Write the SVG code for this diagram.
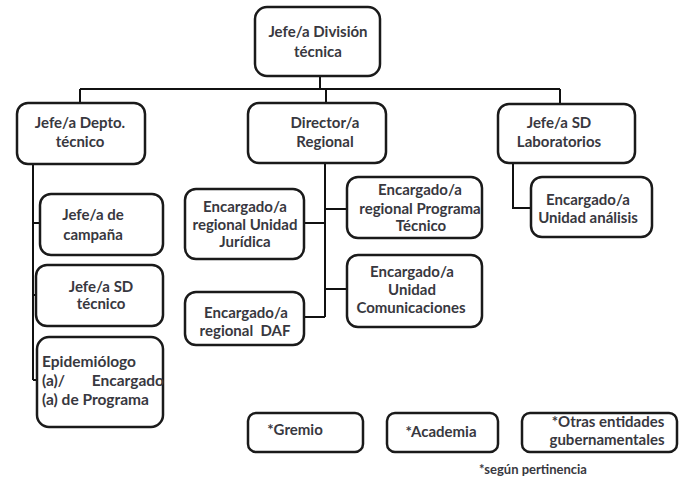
<svg xmlns="http://www.w3.org/2000/svg" width="681" height="477" viewBox="0 0 681 477">
  <style>
    .box { fill: #ffffff; stroke: #1a1a1a; stroke-width: 2.5; }
    .link { fill: none; stroke: #111111; stroke-width: 2; }
    text { font-family: Lato, "Open Sans", "Liberation Sans", sans-serif; font-weight: bold; font-size: 15px; fill: #383840; }
    .c { text-anchor: middle; }
    .big { font-size: 15.5px; }
    .note { font-size: 13px; }
  </style>
  <rect width="681" height="477" fill="#ffffff"/>

  <!-- connectors -->
  <g id="connectors">
    <path class="link" d="M320 76 V89 M80 89 H560 M80 89 V103 M326 89 V103 M560 89 V104"/>
    <path class="link" d="M33 164 V380 M33 223 H40 M33 295 H36 M33 380 H37"/>
    <path class="link" d="M325 163 V317 M325 209 H347 M304 223 H325 M325 289 H347 M304 317 H325"/>
    <path class="link" d="M513 163 V208 H531"/>
  </g>

  <g id="jefe-division">
    <rect class="box" x="255" y="7" width="125" height="69" rx="12"/>
    <text class="c" x="318" y="37">Jefe/a División</text>
    <text class="c" x="318" y="57">técnica</text>
  </g>

  <g id="jefe-depto">
    <rect class="box" x="17" y="103" width="128" height="61" rx="11"/>
    <text class="c" x="80" y="128">Jefe/a Depto.</text>
    <text class="c" x="80" y="147">técnico</text>
  </g>

  <g id="director-regional">
    <rect class="box" x="248" y="103" width="138" height="60" rx="11"/>
    <text class="c" x="325" y="128">Director/a</text>
    <text class="c" x="325" y="147">Regional</text>
  </g>

  <g id="jefe-sd-lab">
    <rect class="box" x="498" y="104" width="137" height="59" rx="11"/>
    <text class="c" x="559" y="128">Jefe/a SD</text>
    <text class="c" x="559" y="147">Laboratorios</text>
  </g>

  <g id="unidad-analisis">
    <rect class="box" x="531" y="177" width="121" height="60" rx="11"/>
    <text class="c" x="588" y="205">Encargado/a</text>
    <text class="c" x="588" y="223">Unidad análisis</text>
  </g>

  <g id="jefe-campana">
    <rect class="box" x="40" y="194" width="123" height="61" rx="11"/>
    <text class="c" x="93" y="220">Jefe/a de</text>
    <text class="c" x="93" y="240">campaña</text>
  </g>

  <g id="jefe-sd-tecnico">
    <rect class="box" x="36" y="265" width="127" height="61" rx="11"/>
    <text class="c" x="101" y="292">Jefe/a SD</text>
    <text class="c" x="101" y="309">técnico</text>
  </g>

  <g id="epidemiologo">
    <rect class="box" x="37" y="337" width="126" height="90" rx="12"/>
    <text class="big" x="42" y="367">Epidemiólogo</text>
    <text class="big" x="42" y="386">(a)/</text>
    <text class="big" x="164" y="386" text-anchor="end">Encargado</text>
    <text class="big" x="42" y="405">(a) de Programa</text>
  </g>

  <g id="unidad-juridica">
    <rect class="box" x="185" y="189" width="119" height="70" rx="11"/>
    <text class="c" x="245" y="212">Encargado/a</text>
    <text class="c" x="245" y="230">regional Unidad</text>
    <text class="c" x="245" y="247">Jurídica</text>
  </g>

  <g id="programa-tecnico">
    <rect class="box" x="347" y="177" width="135" height="61" rx="11"/>
    <text class="c" x="420" y="195">Encargado/a</text>
    <text class="c" x="420" y="214">regional Programa</text>
    <text class="c" x="421" y="231">Técnico</text>
  </g>

  <g id="comunicaciones">
    <rect class="box" x="347" y="255" width="135" height="72" rx="11"/>
    <text class="c" x="412" y="277">Encargado/a</text>
    <text class="c" x="412" y="295">Unidad</text>
    <text class="c" x="411" y="313">Comunicaciones</text>
  </g>

  <g id="regional-daf">
    <rect class="box" x="185" y="292" width="119" height="53" rx="11"/>
    <text class="c" x="246" y="318">Encargado/a</text>
    <text class="c" x="245" y="336" xml:space="preserve">regional  DAF</text>
  </g>

  <g id="gremio">
    <rect class="box" x="248" y="413" width="115" height="39" rx="8"/>
    <text class="c" x="295" y="435">*Gremio</text>
  </g>

  <g id="academia">
    <rect class="box" x="387" y="413" width="111" height="39" rx="8"/>
    <text class="c" x="441" y="437">*Academia</text>
  </g>

  <g id="otras-entidades">
    <rect class="box" x="522" y="413" width="155" height="39" rx="8"/>
    <text class="c" x="608" y="427">*Otras entidades</text>
    <text class="c" x="607" y="445">gubernamentales</text>
  </g>

  <text class="note" x="533" y="474" text-anchor="middle">*según pertinencia</text>
</svg>
